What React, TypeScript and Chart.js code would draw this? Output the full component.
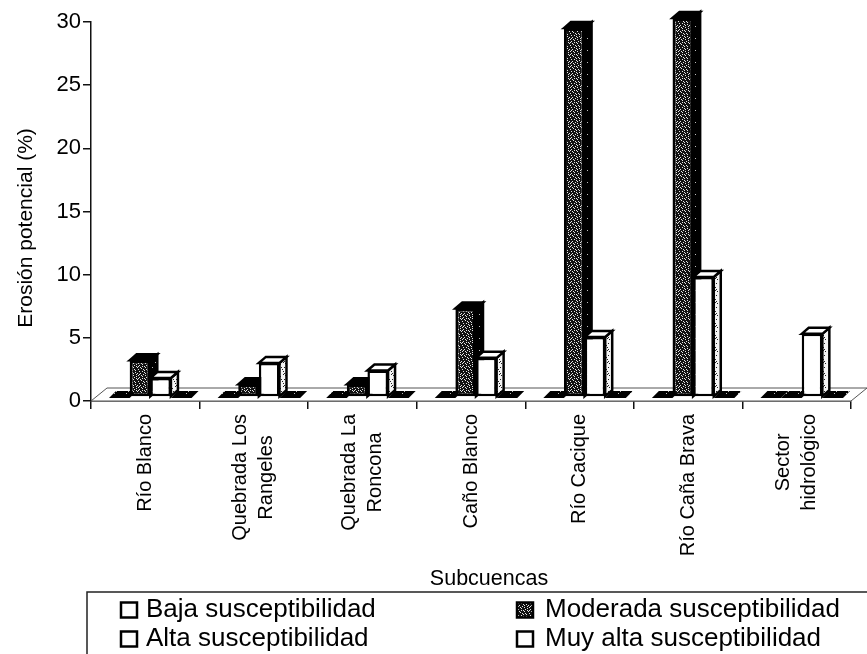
import React, { useEffect, useRef } from "react";
import { Chart, registerables } from "chart.js";

Chart.register(...registerables);

const categories = [
  "Río Blanco",
  ["Quebrada Los", "Rangeles"],
  ["Quebrada La", "Roncona"],
  "Caño Blanco",
  "Río Cacique",
  "Río Caña Brava",
  ["Sector", "hidrológico"],
];
const baja = [0, 0, 0, 0, 0, 0, 0];
const moderada = [2.9, 1.0, 1.0, 7.0, 29.2, 30.0, 0];
const alta = [1.5, 2.7, 2.1, 3.1, 4.75, 9.5, 5.0];
const muyAlta = [0, 0, 0, 0, 0, 0, 0];
const yTicks = [0, 5, 10, 15, 20, 25, 30];
const seriesLabels = ["Baja susceptibilidad", "Moderada susceptibilidad", "Alta susceptibilidad", "Muy alta susceptibilidad"];
const yTitle = "Erosión potencial (%)";
const xTitle = "Subcuencas";

const FONT = '"Liberation Sans", Arial, sans-serif';
const DX = 5, DY = -4, DEPTH_X = 7, DEPTH_Y = 6;
const SPECKS = [[1,1],[4,0],[7,2],[2,3],[5,3],[0,5],[3,5],[6,6],[1,7],[4,7],[7,4],[9,1],[10,4],[8,7],[11,6],[9,9],[2,9],[5,10],[0,11],[7,10],[11,10],[3,11],[6,1],[10,2],[2,6],[8,5],[5,8],[11,8],[1,10],[8,11]];

function makePattern(density: number, dark: string, light: string) {
  const c = document.createElement("canvas");
  c.width = 12; c.height = 12;
  const g = c.getContext("2d")!;
  g.fillStyle = dark;
  g.fillRect(0, 0, 12, 12);
  g.fillStyle = light;
  SPECKS.forEach((p, i) => { if (i % density === 0) g.fillRect(p[0], p[1], 1, 1); });
  return g.createPattern(c, "repeat")!;
}

export default function App() {
  const ref = useRef<HTMLCanvasElement>(null);
  useEffect(() => {
    const stipple = makePattern(1, "#111111", "#e4e4e4");
    const sideDark = makePattern(7, "#000000", "#bbbbbb");
    const sideWhite = makePattern(3, "#f4f4f4", "#222222");
    const centred = new WeakSet<object>();

    const shift = {
      id: "depthBars",
      beforeDraw(chart: any) {
        // multi-line category labels: centre the lines on each other, as in the reference
        const { ctx, scales } = chart;
        ctx.save();
        ctx.font = `20px ${FONT}`;
        scales.x.getLabelItems().forEach((item: any) => {
          if (!Array.isArray(item.label) || centred.has(item)) return;
          centred.add(item);
          const longest = Math.max(...item.label.map((s: string) => ctx.measureText(s).width));
          item.options.textAlign = "center";
          item.options.translation = [item.options.translation[0] - 13, item.options.translation[1] + longest / 2];
        });
        ctx.restore();
      },
      beforeDatasetsDraw(chart: any) {
        const { ctx, chartArea: a } = chart;
        const y0 = a.bottom;
        ctx.save();
        ctx.beginPath();
        ctx.moveTo(a.left, y0);
        ctx.lineTo(a.left + 16, y0 - 13);
        ctx.lineTo(a.right + 16, y0 - 13);
        ctx.lineTo(a.right, y0);
        ctx.closePath();
        ctx.fillStyle = "#ffffff";
        ctx.fill();
        ctx.strokeStyle = "#555555";
        ctx.lineWidth = 1;
        ctx.stroke();
        ctx.restore();
      },
      beforeDatasetDraw() {
        return false;
      },
      afterDatasetsDraw(chart: any) {
        const { ctx } = chart;
        ctx.save();
        ctx.translate(DX, DY);
        chart.data.datasets.forEach((_d: any, index: number) => {
          const meta = chart.getDatasetMeta(index);
          const white = index === 2;
          meta.data.forEach((bar: any, i: number) => {
            const v = chart.data.datasets[index].data[i];
            const l = bar.x - bar.width / 2, r = bar.x + bar.width / 2, t = bar.y, b = bar.base;
            if (v === 0) {
              ctx.fillStyle = sideDark;
              ctx.beginPath();
              ctx.moveTo(l, b + 1);
              ctx.lineTo(l + DEPTH_X, b - DEPTH_Y);
              ctx.lineTo(r + DEPTH_X, b - DEPTH_Y);
              ctx.lineTo(r, b + 1);
              ctx.closePath();
              ctx.fill();
              return;
            }
            ctx.strokeStyle = "#000000";
            ctx.lineWidth = 2.5;
            // right side face
            ctx.beginPath();
            ctx.moveTo(r, t);
            ctx.lineTo(r + DEPTH_X, t - DEPTH_Y);
            ctx.lineTo(r + DEPTH_X, b - DEPTH_Y);
            ctx.lineTo(r, b);
            ctx.closePath();
            ctx.fillStyle = white ? sideWhite : sideDark;
            ctx.fill();
            ctx.stroke();
            // top face
            ctx.beginPath();
            ctx.moveTo(l, t);
            ctx.lineTo(l + DEPTH_X, t - DEPTH_Y);
            ctx.lineTo(r + DEPTH_X, t - DEPTH_Y);
            ctx.lineTo(r, t);
            ctx.closePath();
            ctx.fillStyle = white ? "#ffffff" : "#000000";
            ctx.fill();
            ctx.stroke();
          });
          meta.controller.draw();
        });
        ctx.restore();
      },
      afterDraw(chart: any) {
        const { ctx } = chart;
        ctx.save();
        ctx.fillStyle = "#000000";
        ctx.textBaseline = "middle";
        // axis titles
        ctx.font = `21.5px ${FONT}`;
        ctx.textAlign = "center";
        ctx.fillText(xTitle, 489, 579);
        ctx.save();
        ctx.translate(26, 228);
        ctx.rotate(-Math.PI / 2);
        ctx.font = `21px ${FONT}`;
        ctx.fillText(yTitle, 0, 0);
        ctx.restore();
        // legend frame
        ctx.strokeStyle = "#222222";
        ctx.lineWidth = 1.5;
        ctx.beginPath();
        ctx.moveTo(87, 654);
        ctx.lineTo(87, 592);
        ctx.lineTo(867, 592);
        ctx.stroke();
        // legend entries
        const cols = [121, 517], textX = [146, 545], rows = [610, 639];
        ctx.font = `26px ${FONT}`;
        ctx.textAlign = "left";
        chart.data.datasets.forEach((d: any, i: number) => {
          const x = cols[i % 2], y = rows[Math.floor(i / 2)];
          ctx.fillStyle = i === 1 ? stipple : "#ffffff";
          ctx.fillRect(x, y - 7.5, 16, 15);
          ctx.strokeStyle = "#000000";
          ctx.lineWidth = 2.5;
          ctx.strokeRect(x, y - 7.5, 16, 15);
          ctx.fillStyle = "#000000";
          ctx.fillText(d.label, textX[i % 2], y);
        });
        ctx.restore();
      },
    };

    const face = (data: number[], i: number, bg: any) => ({
      label: seriesLabels[i],
      data,
      backgroundColor: bg,
      borderColor: "#000000",
      borderWidth: i === 1 ? 3 : 2.5,
      borderSkipped: false,
    });

    const chart = new Chart(ref.current!, {
      type: "bar",
      data: {
        labels: categories as any,
        datasets: [
          face(baja, 0, "#ffffff"),
          face(moderada, 1, stipple),
          face(alta, 2, "#ffffff"),
          face(muyAlta, 3, "#ffffff"),
        ],
      },
      plugins: [shift],
      options: {
        responsive: false,
        animation: false,
        layout: { padding: { top: 22, right: 16, left: 0, bottom: 0 } },
        plugins: { legend: { display: false }, tooltip: { enabled: false } },
        datasets: { bar: { categoryPercentage: 0.76, barPercentage: 1 } },
        scales: {
          x: {
            afterFit(s: any) { s.height = 253; },
            grid: { drawOnChartArea: false, color: "#111111", tickLength: 8, lineWidth: 1.5 },
            border: { color: "#111111", width: 1.5 },
            ticks: {
              color: "#000000",
              font: { family: FONT, size: 20, lineHeight: 1.3 },
              maxRotation: 90,
              minRotation: 90,
              autoSkip: false,
              padding: 5,
            },
          },
          y: {
            min: 0,
            max: 30,
            afterFit(s: any) { s.width = 91; },
            afterBuildTicks(s: any) { s.ticks = yTicks.map((value) => ({ value })); },
            grid: { drawOnChartArea: false, color: "#111111", tickLength: 8, lineWidth: 1.5 },
            border: { color: "#111111", width: 1.5 },
            ticks: { color: "#000000", font: { family: FONT, size: 22 }, padding: 2 },
          },
        },
      } as any,
    });
    return () => chart.destroy();
  }, []);
  return <canvas ref={ref} width={867} height={654} style={{ position: "absolute", left: 0, top: 0, width: 867, height: 654, background: "#fff" }} />;
}
